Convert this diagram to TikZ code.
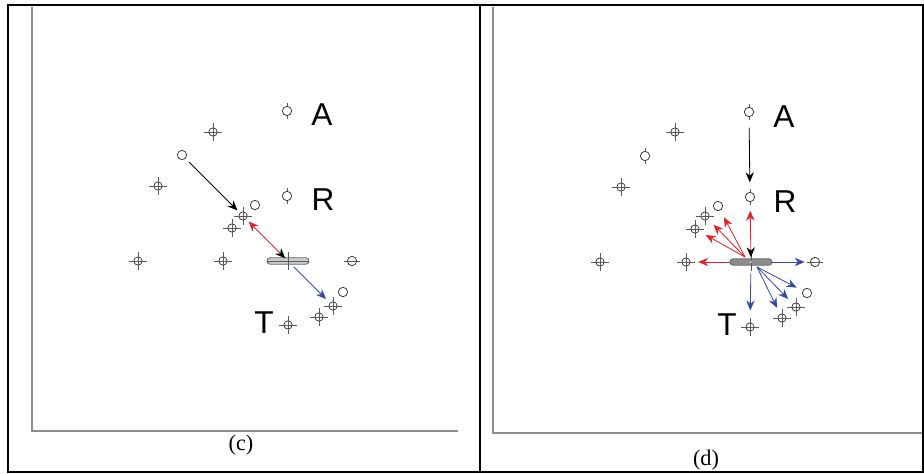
\documentclass[tikz,border=0pt]{standalone}
\usepackage{fontspec}
\setmainfont{Liberation Serif}
\setsansfont{Liberation Sans}
\usetikzlibrary{arrows.meta}
\definecolor{arrowred}{RGB}{232,32,40}
\definecolor{arrowblue}{RGB}{52,72,168}

\begin{document}
\begin{tikzpicture}[
    x=0.3mm, y=-0.3mm,
    frame/.style={line width=0.6mm},
    panel/.style={draw=black!45, line width=0.45mm},
    crossmark/.style={circle, draw=black!85, line width=0.6pt, inner sep=0pt, minimum size=2.5mm},
    plainmark/.style={circle, draw=black!85, line width=0.6pt, inner sep=0pt, minimum size=2.8mm},
    hair/.style={draw=black!65, line width=0.5pt},
    barmark/.style={rectangle, rounded corners=0.9mm, draw=black!60, line width=0.7pt, minimum width=12.6mm, minimum height=1.9mm, inner sep=0pt},
    letter/.style={font=\sffamily\fontsize{27}{29}\selectfont, inner sep=0pt},
    caption/.style={font=\fontsize{19}{22}\selectfont, inner sep=0pt},
    arrow/.style={-{Stealth[length=3mm, width=2.5mm]}, line width=0.7pt},
    redarrow/.style={arrow, color=arrowred},
    bluearrow/.style={arrow, color=arrowblue}
]
    \useasboundingbox (0,0) rectangle (924,474);

    % Frames
    \draw[frame] (8,5) rectangle (923,472);
    \draw[frame] (480,5) -- (480,472);
    \draw[panel] (32,7) -- (32,431) -- (458,431);
    \draw[panel] (493,7) -- (493,433) -- (922,433);

    % Panel (c)
    \node[plainmark] (c1) at (287,111) {};
    \node[crossmark] (c2) at (213,132) {};
    \node[plainmark] (c3) at (182,155) {};
    \node[crossmark] (c4) at (158,186) {};
    \node[plainmark] (c5) at (287,196) {};
    \node[plainmark] (c6) at (255,205) {};
    \node[crossmark] (c7) at (243,216) {};
    \node[crossmark] (c8) at (232,228) {};
    \node[crossmark] (c9) at (138,261) {};
    \node[crossmark] (c10) at (223,261) {};
    \node[barmark, fill=black!20] (cbar) at (288,261) {};
    \node[plainmark] (c11) at (352,261) {};
    \node[plainmark] (c12) at (343,292) {};
    \node[crossmark] (c13) at (333,306) {};
    \node[crossmark] (c14) at (319,317) {};
    \node[crossmark] (c15) at (288,325) {};

    \node[letter] (ca) at (322,115) {A};
    \node[letter] (cr) at (323,200) {R};
    \node[letter] (ct) at (264,323) {T};

    % Panel (d)
    \node[plainmark] (d1) at (749,112) {};
    \node[crossmark] (d2) at (675,132) {};
    \node[plainmark] (d3) at (645,156) {};
    \node[crossmark] (d4) at (621,187) {};
    \node[plainmark] (d5) at (750,197) {};
    \node[plainmark] (d6) at (718,206) {};
    \node[crossmark] (d7) at (705,216) {};
    \node[crossmark] (d8) at (695,229) {};
    \node[crossmark] (d9) at (600,262) {};
    \node[crossmark] (d10) at (686,262) {};
    \node[barmark, fill=black!45, draw=black!60] (dbar) at (751,262) {};
    \node[plainmark] (d11) at (815,262) {};
    \node[plainmark] (d12) at (807,293) {};
    \node[crossmark] (d13) at (796,307) {};
    \node[crossmark] (d14) at (782,318) {};
    \node[crossmark] (d15) at (750,327) {};

    \node[letter] (da) at (784,117) {A};
    \node[letter] (dr) at (785,202) {R};
    \node[letter] (dt) at (727,325) {T};

    % Hairs
    \foreach \n in {c2,c4,c7,c8,c9,c10,c13,c14,c15,d2,d4,d7,d8,d9,d10,d13,d14,d15}
        \draw[hair] ([xshift=-2.6mm]\n.center) -- ([xshift=2.6mm]\n.center)
                    ([yshift=-2.6mm]\n.center) -- ([yshift=2.6mm]\n.center);
    \foreach \n in {c1,c5,d1,d3,d5}
        \draw[hair] (\n.north) -- ([yshift=1mm]\n.north)
                    (\n.south) -- ([yshift=-1mm]\n.south);
    \foreach \n in {c11,d11}
        \draw[hair] ([xshift=-2.4mm]\n.center) -- ([xshift=2.4mm]\n.center);
    \draw[hair] (cbar.west) -- (cbar.east);
    \foreach \n in {cbar,dbar}
        \draw[hair] ([yshift=-2.8mm]\n.center) -- ([yshift=2.8mm]\n.center);
    \fill[white] (dbar.center) circle (0.25mm);

    % Arrows (c)
    \draw[arrow, shorten <=1.5mm, shorten >=1mm] (c3) -- (c7);
    \draw[color=arrowred, line width=0.7pt, {Stealth[length=3mm, width=2.5mm]}-{Stealth[length=3mm, width=2.5mm, color=black]},
          shorten <=1mm, shorten >=1.2mm] (c7) -- (cbar.center);
    \draw[bluearrow, shorten <=2.5mm, shorten >=1.6mm] (cbar.center) -- (c13);

    % Arrows (d)
    \coordinate (dsrc) at (745,257);
    \coordinate (dsnk) at (757,267);
    \draw[arrow, shorten <=3.2mm, shorten >=2.9mm] (d1) -- (d5);
    \draw[color=arrowred, line width=0.7pt, {Stealth[length=3mm, width=2.5mm, color=black]}-{Stealth[length=3mm, width=2.5mm]},
          shorten <=1.4mm, shorten >=2.6mm] (dbar.center) -- (d5);
    \foreach \n in {d6,d7,d8}
        \draw[redarrow, shorten >=2.3mm] (dsrc) -- (\n);
    \draw[redarrow, shorten >=2.3mm] (dbar.west) -- (d10);
    \draw[bluearrow, shorten >=1.6mm] (dbar.east) -- (d11);
    \foreach \n in {d12,d13,d14}
        \draw[bluearrow, shorten >=2mm] (dsnk) -- (\n);
    \draw[bluearrow, shorten <=3.5mm, shorten >=3.6mm] (dbar.center) -- (d15);

    % Captions
    \node[caption] (capc) at (241,445) {(c)};
    \node[caption] (capd) at (706,460) {(d)};
\end{tikzpicture}
\end{document}
